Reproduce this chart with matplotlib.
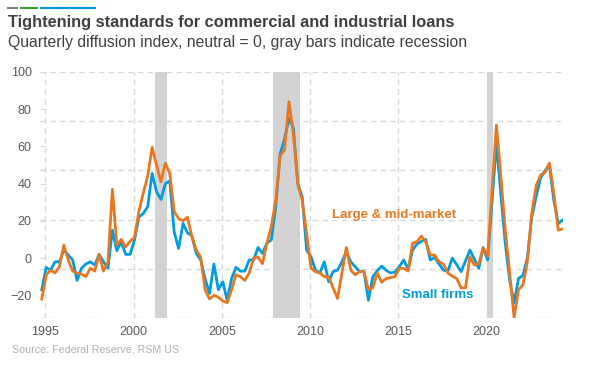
import numpy as np
import matplotlib.pyplot as plt

plt.rcParams['font.family'] = ['Liberation Sans', 'DejaVu Sans']

# quarterly survey, first obs. late 1994
start_year = 1994.8
large = [-22, -9, -6.5, -8, -4.7, 7, -1, -7, -8, -8.6,
         -10, -5.4, -7, 2, -7, -2, 37, 7, 10, 6,
         9, 11, 25, 35, 44, 59.5, 50, 41, 51, 45.5,
         25, 21.3, 20, 22, 11.5, 4.3, 0.4, -17, -22, -20,
         -21, -23, -24, -17, -9, -10, -12, -8, 0, 0.5,
         -3, 8, 17, 31, 55, 58, 84, 67, 40, 31,
         13, -5.5, -7.3, -8, -10, -10, -16, -21.7, -8, 5.7,
         -6.5, -9, -7.3, -7.3, -17, -16, -8, -13, -11, -10.5,
         -10, -5.5, -5.5, -7, 8, 8.8, 11.8, 8.5, 1.6, 1.6,
         -2, -3.2, -8, -9.7, -11, -16, -16, 0.7, -3.8, -3,
         5.5, 1, 36, 71.5, 44, 15, -8, -32, -17, -14.5,
         -2, 24, 39, 44.6, 46, 51, 34.8, 15, 15.7]
small = [-17, -5, -6.5, -2, -2, 4.3, 1.6, -1, -12, -5.5,
         -3.2, -2, -3.8, 2, -2, -5.5, 15, 4, 8.8, 2,
         2, 9.7, 22, 24, 27.6, 45.5, 35.7, 31.5, 40, 41.5,
         14, 5.2, 18.6, 13.6, 12, 2.5, -1, -11, -19, -3.2,
         -17, -12.7, -22.6, -11, -5, -7, -7, -1, -1, 5.7,
         2.5, 8, 9.7, 27.6, 56, 64, 75, 70, 40, 33,
         4.3, 0.7, -6.5, -8, -2, -12.7, -7.3, -6.5, -2, 3.4,
         -2, -4.6, -7.3, -7.3, -22.6, -10, -6.8, -4.3, -6.5, -8,
         -7.6, -4.6, -1, -6, 4.3, 7.5, 9, 10, -1, 0.4,
         -3.2, -6.5, -7, 0, -3.5, -7.3, -1.5, 4.3, -0.5, -5.5,
         5.7, -1, 30, 62, 34, 8, -12, -24, -11, -9.3,
         0, 22, 33, 43, 47, 50, 31, 18.6, 20.4]
recessions = [(2001.2, 2001.92), (2007.92, 2009.45), (2020.0, 2020.33)]
years = [1995, 2000, 2005, 2010, 2015, 2020]
yticks = [-20, 0, 20, 40, 60, 80, 100]

t = start_year + 0.25*np.arange(len(large))

orange = '#E87722'
blue = '#009CDE'
grid_c = '#D9D9D9'

fig = plt.figure(figsize=(6.02, 3.67), dpi=100)
ax = fig.add_axes([40/602, 1-318/367, 523/602, 246/367])

ymin, ymax = -32.2, 100
ax.set_xlim(1994.7, 2024.32)
ax.set_ylim(ymin, ymax)

for a, b in recessions:
    ax.axvspan(a, b, color='#D3D3D3', lw=0, zorder=1)

# grid: vertical at the year ticks, horizontal split evenly over the range
for yr in years:
    ax.axvline(yr, color=grid_c, lw=1, ls=(0, (4, 3)), zorder=0)
for gy in np.linspace(ymin, ymax, 6):
    ax.axhline(gy, color=grid_c, lw=1, ls=(0, (4, 3)), zorder=0)

ax.plot(t, small, color=blue, lw=2, zorder=3)
ax.plot(t, large, color=orange, lw=2, zorder=4)

ax.set_xticks(years)
ax.set_yticks(yticks)
ax.tick_params(axis='x', length=0, pad=6, labelsize=9, labelcolor='#595959')
ax.tick_params(axis='y', direction='in', length=4, color=grid_c, pad=6,
               labelsize=9, labelcolor='#595959')
for s in ax.spines.values():
    s.set_visible(False)

ax.text(2011.25, 23, 'Large & mid-market', color=orange, fontsize=9.5,
        fontweight='bold', va='center', ha='left')
ax.text(2015.2, -20, 'Small firms', color=blue, fontsize=9.5,
        fontweight='bold', va='center', ha='left')

fig.text(8/602, 1-23/367, 'Tightening standards for commercial and industrial loans',
         fontsize=11.8, fontweight='bold', color='#404040', va='center')
fig.text(8/602, 1-42/367, 'Quarterly diffusion index, neutral = 0, gray bars indicate recession',
         fontsize=11.3, color='#404040', va='center')
fig.text(12/602, 1-350/367, 'Source: Federal Reserve, RSM US', fontsize=7.7,
         color='#B0B0B0', va='center')

# colour strip in the top-left corner
fig.add_artist(plt.Line2D([8/602, 17/602], [1-7.5/367]*2, color='#808080', lw=1.5))
fig.add_artist(plt.Line2D([21/602, 37/602], [1-7.5/367]*2, color='#3F9C35', lw=1.5))
fig.add_artist(plt.Line2D([41/602, 95/602], [1-7.5/367]*2, color=blue, lw=1.5))

fig.savefig('out.png', dpi=100)
